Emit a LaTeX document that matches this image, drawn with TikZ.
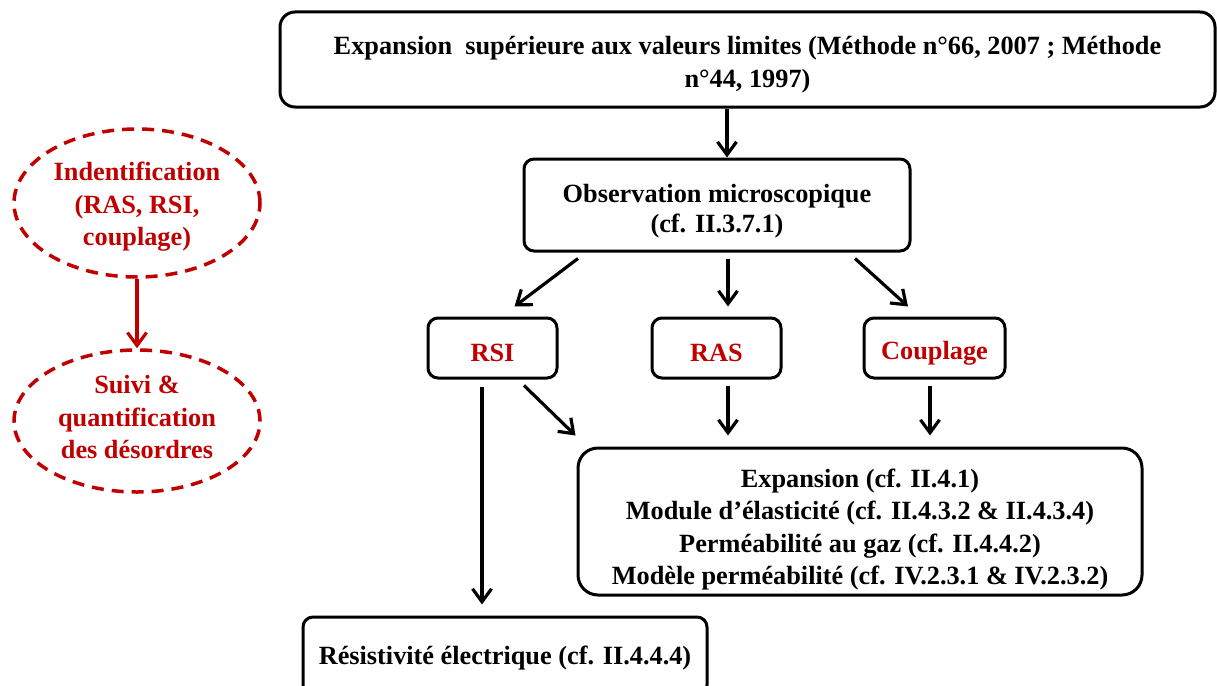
\documentclass[tikz,border=0pt]{standalone}
\usepackage{fontspec}
\setmainfont{Liberation Serif}
\usetikzlibrary{arrows.meta,shapes.geometric}
\definecolor{dred}{RGB}{192,0,0}
\begin{document}
\begin{tikzpicture}[x=1pt,y=-1pt,
  box/.style={draw,line width=3pt,rounded corners=10pt,inner sep=0pt},
  txt/.style={align=center,inner sep=0pt,font=\bfseries\fontsize{26.3}{31}\selectfont},
  arr/.style={line width=3.2pt,-{Straight Barb[length=13pt,width=19pt]}},
  ell/.style={ellipse,draw=dred,line width=3.5pt,dash pattern=on 12pt off 8pt,inner sep=0pt},
  etxt/.style={txt,text=dred,font=\bfseries\fontsize{26.3}{32.5}\selectfont}]
\useasboundingbox (0,0) rectangle (1217,685);

% main column boxes
\node[box,minimum width=935pt,minimum height=95pt,rounded corners=15pt] (top) at (747.5,59.5) {};
\node[txt,font=\bfseries\fontsize{26.3}{33}\selectfont] (topt) at ([yshift=-5pt]top.center)
  {Expansion\ \ supérieure aux valeurs limites (Méthode n°66, 2007 ; Méthode\\n°44, 1997)};
\node[box,minimum width=386pt,minimum height=92pt] (obs) at (717,205) {};
\node[txt,font=\bfseries\fontsize{26.3}{30}\selectfont] (obst) at ([yshift=-6pt]obs.center)
  {Observation microscopique\\(cf. II.3.7.1)};
\node[box,minimum width=129pt,minimum height=60pt] (rsi) at (492.5,348) {};
\node[txt,text=dred] (rsit) at ([yshift=-5pt]rsi.center) {RSI};
\node[box,minimum width=129pt,minimum height=60pt] (ras) at (716.5,348) {};
\node[txt,text=dred] (rast) at ([yshift=-5pt]ras.center) {RAS};
\node[box,minimum width=141pt,minimum height=60pt] (coup) at (934.5,348) {};
\node[txt,text=dred] (coupt) at ([yshift=-5pt]coup.center) {Couplage};
\node[box,minimum width=564pt,minimum height=147pt,rounded corners=20pt] (big) at (860,521.5) {};
\node[txt,font=\bfseries\fontsize{26.3}{32.3}\selectfont] (bigt) at ([yshift=-8pt]big.center)
  {Expansion (cf. II.4.1)\\Module d’élasticité (cf. II.4.3.2 \& II.4.3.4)\\Perméabilité au gaz (cf. II.4.4.2)\\Modèle perméabilité (cf. IV.2.3.1 \& IV.2.3.2)};
\node[box,minimum width=404pt,minimum height=78pt] (res) at (505,656) {};
\node[txt] (rest) at ([yshift=-2pt]res.center) {Résistivité électrique (cf. II.4.4.4)};

% left ellipses
\node[ell,minimum width=246pt,minimum height=148pt] (e1) at (137,203) {};
\node[etxt] (e1t) at ([yshift=-4pt]e1.center) {Indentification\\(RAS, RSI,\\couplage)};
\node[ell,minimum width=246pt,minimum height=142pt] (e2) at (137,421) {};
\node[etxt] (e2t) at ([yshift=4pt]e2.center) {Suivi \&\\quantification\\des désordres};

% connectors
\draw[arr] ([xshift=-20.5pt]top.south) -- ([xshift=10pt]obs.north);
\draw[arr] ([xshift=-139pt,yshift=-6pt]obs.south) -- ([xshift=22pt,yshift=10pt]rsi.north);
\draw[arr] ([xshift=11pt,yshift=-6pt]obs.south) -- ([xshift=11.5pt,yshift=10pt]ras.north);
\draw[arr] ([xshift=138pt,yshift=-6pt]obs.south) -- ([xshift=-26.5pt,yshift=10pt]coup.north);
\draw[arr] ([xshift=-10.5pt,yshift=-7pt]rsi.south) -- ([xshift=-23pt,yshift=11pt]res.north);
\draw[arr] ([xshift=31.5pt,yshift=-6pt]rsi.south) -- ([xshift=-1pt,yshift=11pt]big.north west);
\draw[arr] ([xshift=11.5pt,yshift=-6pt]ras.south) -- ([xshift=-132pt,yshift=11pt]big.north);
\draw[arr] ([xshift=-4.5pt,yshift=-6pt]coup.south) -- ([xshift=70pt,yshift=11pt]big.north);
\draw[arr,dred] (e1.south) -- (e2.north);
\end{tikzpicture}
\end{document}
